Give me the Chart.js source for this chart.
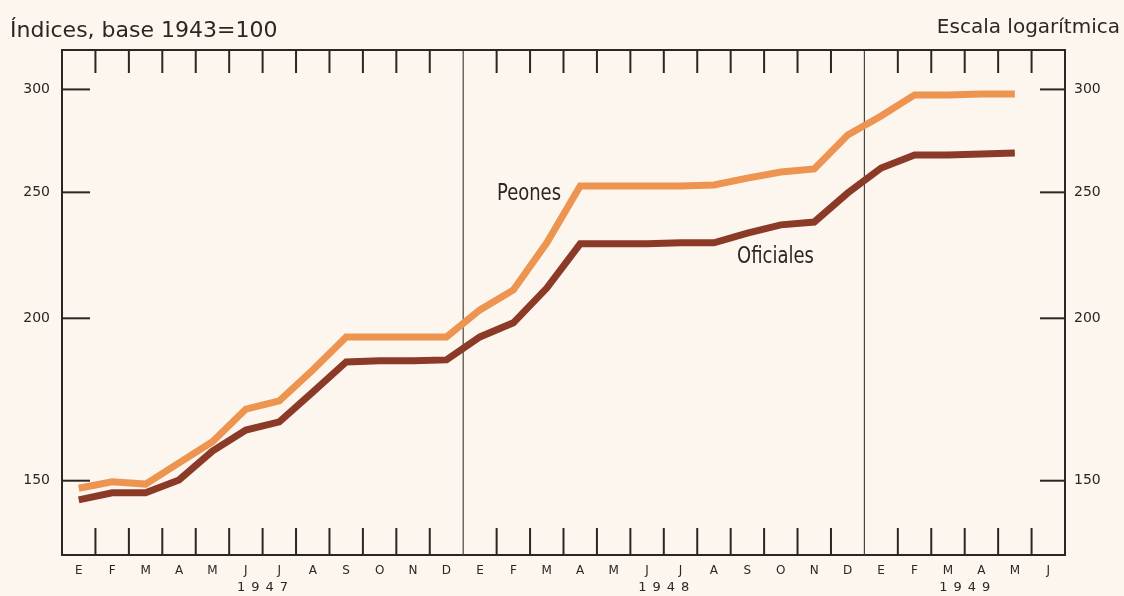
<!DOCTYPE html>
<html>
<head>
<meta charset="utf-8">
<script src="https://cdn.jsdelivr.net/npm/chart.js@4"></script>
<style>
  html, body { margin: 0; padding: 0; background: #FCF6EE; }
  #wrap { width: 1124px; height: 596px; }
  canvas { display: block; }
</style>
</head>
<body>
<div id="wrap"><canvas id="c" width="1124" height="596"></canvas></div>
<script>
// ---- Data ----
const MONTHS = ['E','F','M','A','M','J','J','A','S','O','N','D',
                'E','F','M','A','M','J','J','A','S','O','N','D',
                'E','F','M','A','M','J'];
const YEARS = ['1947', '1948', '1949'];
const PEONES = [148, 149.7, 149.1, 154.8, 160.7, 170.3, 172.8, 182.5, 193.5, 193.5, 193.5, 193.5,
                203, 210.3, 228.6, 252.8, 252.8, 252.8, 252.8, 253.3, 256.4, 259.2, 260.6, 276.7,
                286.2, 297.1, 297.1, 297.6, 297.6];
const OFICIALES = [145, 146.8, 146.8, 150.2, 158.1, 164.1, 166.5, 175.5, 185.1, 185.5, 185.5, 185.8,
                   193.5, 198.4, 211, 228.2, 228.2, 228.2, 228.6, 228.6, 232.6, 236, 237.2, 249.7,
                   261, 267.1, 267.1, 267.6, 268.1];
const Y_TICKS = [150, 200, 250, 300];
const SERIES_NAMES = ['Peones', 'Oficiales'];
const TITLE_LEFT = 'Índices, base 1943=100';
const TITLE_RIGHT = 'Escala logarítmica';

// ---- Styling ----
const INK = '#2b2622';
const ORANGE = '#EC9450';
const BROWN = '#8C3A28';
const COND = '"DejaVu Sans Condensed", "Liberation Sans Narrow", "DejaVu Sans", sans-serif';
const SANS = '"DejaVu Sans", "Liberation Sans", sans-serif';

const decor = {
  id: 'decor',
  beforeDatasetsDraw(chart) {
    const { ctx, chartArea: a, scales } = chart;
    const x = scales.x, y = scales.y;
    ctx.save();
    // year separators
    ctx.strokeStyle = '#4a4440';
    ctx.lineWidth = 1.2;
    [12, 24].forEach(i => {
      const px = (x.getPixelForValue(i - 1) + x.getPixelForValue(i)) / 2;
      ctx.beginPath(); ctx.moveTo(px, a.top); ctx.lineTo(px, a.bottom); ctx.stroke();
    });
    // month boundary ticks (top and bottom, inward)
    ctx.strokeStyle = INK;
    ctx.lineWidth = 2;
    for (let i = 1; i < MONTHS.length; i++) {
      if (i % 12 === 0) continue;
      const px = (x.getPixelForValue(i - 1) + x.getPixelForValue(i)) / 2;
      ctx.beginPath(); ctx.moveTo(px, a.top); ctx.lineTo(px, a.top + 23); ctx.stroke();
      ctx.beginPath(); ctx.moveTo(px, a.bottom); ctx.lineTo(px, a.bottom - 27); ctx.stroke();
    }
    // y tick marks inward on both sides
    Y_TICKS.forEach(v => {
      const py = y.getPixelForValue(v);
      ctx.beginPath(); ctx.moveTo(a.left, py); ctx.lineTo(a.left + 28, py); ctx.stroke();
      ctx.beginPath(); ctx.moveTo(a.right, py); ctx.lineTo(a.right - 25, py); ctx.stroke();
    });
    // top border
    ctx.beginPath(); ctx.moveTo(a.left - 1, a.top); ctx.lineTo(a.right + 1, a.top); ctx.stroke();
    ctx.restore();
  },
  afterDraw(chart) {
    const { ctx, chartArea: a, scales } = chart;
    const x = scales.x, y = scales.y;
    ctx.save();
    ctx.fillStyle = INK;
    // titles
    ctx.textBaseline = 'alphabetic';
    ctx.font = '22px ' + SANS;
    ctx.textAlign = 'left';
    ctx.fillText(TITLE_LEFT, 10, 37);
    ctx.font = '20px ' + SANS;
    ctx.textAlign = 'right';
    ctx.fillText(TITLE_RIGHT, 1120, 33);
    // series labels (tall, narrow lettering)
    ctx.font = '20px ' + COND;
    ctx.textAlign = 'left';
    ctx.save(); ctx.translate(497, 200); ctx.scale(1, 1.18); ctx.fillText(SERIES_NAMES[0], 0, 0); ctx.restore();
    ctx.save(); ctx.translate(737, 263); ctx.scale(1, 1.18); ctx.fillText(SERIES_NAMES[1], 0, 0); ctx.restore();
    // year labels under the month labels
    ctx.font = '13px ' + SANS;
    ctx.textAlign = 'center';
    ctx.textBaseline = 'middle';
    try { ctx.letterSpacing = '6px'; } catch (e) {}
    YEARS.forEach((yr, k) => {
      const s = k * 12, e = Math.min(s + 11, MONTHS.length - 1);
      const cx = (x.getPixelForValue(s) + x.getPixelForValue(e)) / 2;
      ctx.fillText(yr, cx + 3, 588);
    });
    ctx.restore();
  }
};

const yCommon = {
  type: 'logarithmic',
  min: 131.5,
  max: 321.7,
  afterBuildTicks(s) { s.ticks = Y_TICKS.map(v => ({ value: v })); },
  grid: { display: false, drawTicks: false },
  border: { display: true, color: INK, width: 2 }
};

new Chart(document.getElementById('c'), {
  type: 'line',
  data: {
    labels: MONTHS,
    datasets: [
      { label: SERIES_NAMES[0], data: PEONES, borderColor: ORANGE, borderWidth: 7, pointRadius: 0,
        tension: 0, borderJoinStyle: 'miter', borderCapStyle: 'butt', yAxisID: 'y' },
      { label: SERIES_NAMES[1], data: OFICIALES, borderColor: BROWN, borderWidth: 7, pointRadius: 0,
        tension: 0, borderJoinStyle: 'miter', borderCapStyle: 'butt', yAxisID: 'y' }
    ]
  },
  options: {
    responsive: false,
    animation: false,
    events: [],
    layout: { padding: { top: 50, left: 0, right: 0, bottom: 0 } },
    plugins: { legend: { display: false }, tooltip: { enabled: false }, title: { display: false } },
    scales: {
      x: {
        type: 'category',
        offset: true,
        grid: { display: false, drawTicks: false },
        border: { display: true, color: INK, width: 2 },
        ticks: { autoSkip: false, maxRotation: 0, minRotation: 0, padding: 9, color: INK,
                 font: { family: SANS, size: 12 } },
        afterFit(s) { s.height = 41; }
      },
      y: Object.assign({}, yCommon, {
        position: 'left',
        ticks: { padding: 12, color: INK, font: { family: SANS, size: 14 }, callback: v => String(v) },
        afterFit(s) { s.width = 62; }
      }),
      y2: Object.assign({}, yCommon, {
        position: 'right',
        ticks: { padding: 9, color: INK, font: { family: SANS, size: 14 }, callback: v => String(v) },
        afterFit(s) { s.width = 59; }
      })
    }
  },
  plugins: [decor]
});
</script>
</body>
</html>
